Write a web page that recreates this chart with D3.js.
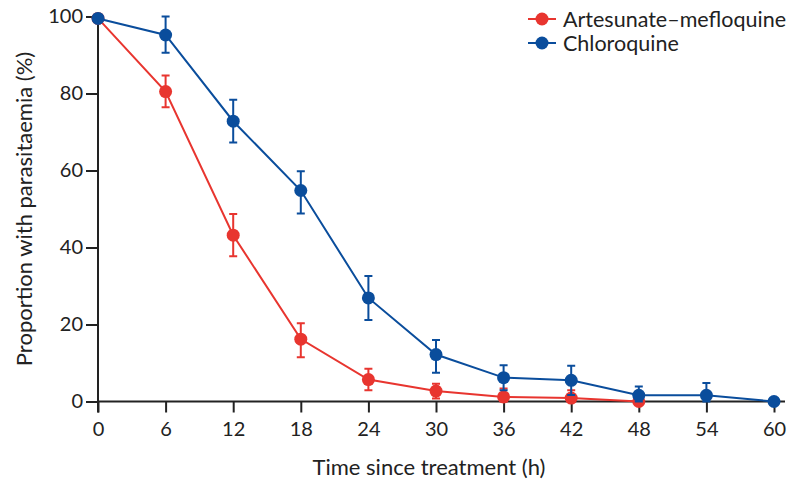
<!DOCTYPE html>
<html><head><meta charset="utf-8">
<script src="https://cdn.jsdelivr.net/npm/d3@7"></script>
<style>body{margin:0;background:#fff}svg{display:block}text{font-family:Lato,sans-serif;fill:#222}</style>
</head><body><svg id="c" width="800" height="488"></svg>
<script>
const hours = [0, 6, 12, 18, 24, 30, 36, 42, 48, 54, 60];
const seriesNames = ["Artesunate–mefloquine", "Chloroquine"];
const seriesColors = ["#e8352f", "#0a4d9c"];
// Artesunate–mefloquine (no value at 54, 60)
const amHours = [0, 6, 12, 18, 24, 30, 36, 42, 48];
const amValues = [99.5, 80.5, 43.2, 16.2, 5.7, 2.7, 1.2, 0.9, 0];
const amLow = [99.5, 76.4, 37.7, 11.5, 2.9, 0.8, 0, 0, 0];
const amHigh = [99.5, 84.7, 48.7, 20.3, 8.5, 4.6, 3.4, 2.9, 0];
// Chloroquine
const cqHours = [0, 6, 12, 18, 24, 30, 36, 42, 48, 54, 60];
const cqValues = [99.5, 95.2, 72.8, 54.8, 26.9, 12.2, 6.2, 5.5, 1.6, 1.6, 0];
const cqLow = [99.5, 90.6, 67.3, 48.8, 21.2, 7.5, 2.9, 1.7, 0, 0, 0];
const cqHigh = [99.5, 100, 78.4, 59.8, 32.6, 16.0, 9.4, 9.3, 3.9, 4.8, 0];
const yTicks = [0, 20, 40, 60, 80, 100];

const svg = d3.select("#c");
const x = d3.scaleLinear().domain([0, 60]).range([98, 774]);
const y = d3.scaleLinear().domain([0, 100]).range([401.5, 16.5]);

// axes
const xAxis = svg.append("g").attr("transform", `translate(0,${y(0)})`)
  .call(d3.axisBottom(x).tickValues(hours).tickSize(11).tickPadding(9));
xAxis.select(".domain").attr("d", `M${x(0)},0H${x(60)+11}`);
const yAxis = svg.append("g").attr("transform", `translate(${x(0)},0)`)
  .call(d3.axisLeft(y).tickValues(yTicks).tickSize(12).tickPadding(3));
yAxis.select(".domain").attr("d", `M0,${y(100)}V${y(0)+11}`);
svg.selectAll(".domain, .tick line").attr("stroke", "#222").attr("stroke-width", 2);
svg.selectAll(".tick text").style("font-size", "20px").attr("fill", "#222");

svg.append("text").attr("transform", `translate(23,${(y(0)+y(100))/2}) rotate(-90)`)
  .attr("text-anchor", "middle").attr("dominant-baseline", "central").style("font-size", "22px")
  .text("Proportion with parasitaemia (%)");
svg.append("text").attr("x", 429).attr("y", 475).attr("text-anchor", "middle").style("font-size", "22px")
  .text("Time since treatment (h)");

const series = [
  {h: amHours, v: amValues, lo: amLow, hi: amHigh, c: seriesColors[0]},
  {h: cqHours, v: cqValues, lo: cqLow, hi: cqHigh, c: seriesColors[1]}
];
const line = d3.line().x(d => x(d[0])).y(d => y(d[1]));
series.forEach(s => {
  const g = svg.append("g");
  const pts = s.h.map((h, i) => [h, s.v[i], s.lo[i], s.hi[i]]);
  g.append("path").datum(pts).attr("d", line).attr("fill", "none").attr("stroke", s.c).attr("stroke-width", 2);
  const eb = pts.filter(p => p[3] - p[2] > 0.5);
  g.selectAll(".eb").data(eb).enter().append("path")
    .attr("d", p => `M${x(p[0])},${y(p[2])}V${y(p[3])}M${x(p[0])-4},${y(p[2])}h8M${x(p[0])-4},${y(p[3])}h8`)
    .attr("stroke", s.c).attr("stroke-width", 2).attr("fill", "none");
  g.selectAll("circle").data(pts).enter().append("circle")
    .attr("cx", p => x(p[0])).attr("cy", p => y(p[1])).attr("r", 6.5).attr("fill", s.c);
});

// legend
const leg = svg.append("g");
seriesNames.forEach((n, i) => {
  const yy = 19 + i * 24;
  leg.append("line").attr("x1", 528).attr("x2", 556).attr("y1", yy).attr("y2", yy).attr("stroke", seriesColors[i]).attr("stroke-width", 2);
  leg.append("circle").attr("cx", 542).attr("cy", yy).attr("r", 6.5).attr("fill", seriesColors[i]);
  leg.append("text").attr("x", 563).attr("y", yy).attr("dominant-baseline", "central").style("font-size", "21.5px").text(n);
});
</script></body></html>
